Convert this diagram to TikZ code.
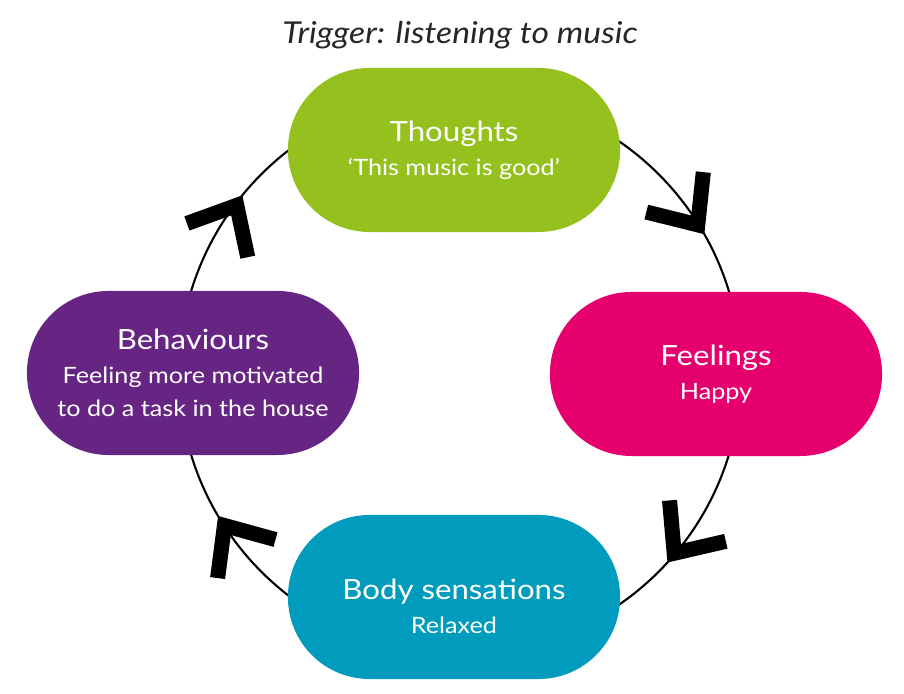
\documentclass[tikz,border=0pt]{standalone}
\usepackage{fontspec}
\setmainfont{Lato}[FakeStretch=1.12]
\usetikzlibrary{calc}
\definecolor{thoughtgreen}{HTML}{95C11F}
\definecolor{feelpink}{HTML}{E5006E}
\definecolor{behavpurple}{HTML}{662483}
\definecolor{bodyteal}{HTML}{009BBD}
\newcommand{\stagehead}[1]{{\fontsize{19.8}{24}\selectfont #1}}

\begin{document}
\begin{tikzpicture}[
x=0.025cm, y=0.025cm,
cycleline/.style={draw=black, line width=1.5pt},
stage/.style={rounded corners=2.04cm, minimum width=8.3cm, minimum height=4.1cm,
  inner sep=0pt, text=white, align=center, font=\fontsize{16}{24}\selectfont},
chevron/.pic={\draw[line width=10.7pt] (-41:53) -- (0,0) -- (41:53);}
]
\useasboundingbox (0,0) rectangle (904,694);

\coordinate (cyc) at (460,321);
\draw[cycleline] (cyc) circle[radius=281];

% title
\node[font=\itshape\fontsize{21.4}{24}\selectfont, text=black!85] (trigger) at (460,659) {Trigger: listening to music};

% the four stages
\node[stage, fill=thoughtgreen] (thoughts) at (454,544) {\stagehead{Thoughts}\\‘This music is good’};
\node[stage, fill=feelpink] (feelings) at (716,320) {\stagehead{Feelings}\\Happy};
\node[stage, fill=bodyteal, text height=52pt] (body) at (454,97) {\stagehead{Body sensations}\\Relaxed};
\node[stage, fill=behavpurple] (behaviours) at (193,321) {\stagehead{Behaviours}\\Feeling more motivated\\to do a task in the house};

% arrow marks on the circle
\foreach \a/\b in {29.6/125, -42.4/54, 210.6/303.6, 140.8/241}
  \pic[rotate=\b] at ($(cyc)+(\a:281)+(\b:11.4)$) {chevron};

\end{tikzpicture}
\end{document}
